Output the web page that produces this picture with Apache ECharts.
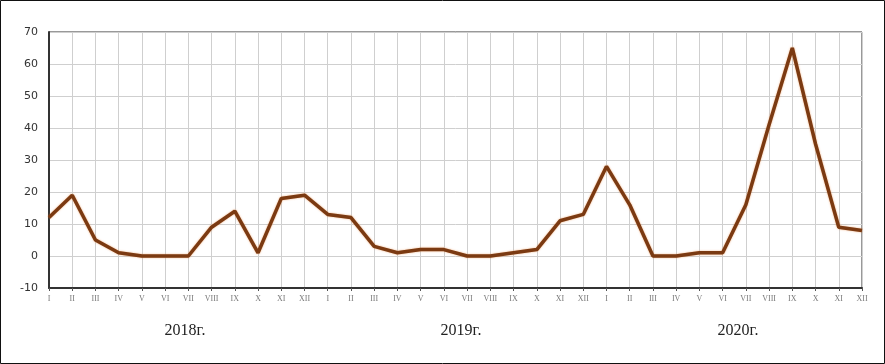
<!DOCTYPE html>
<html><head><meta charset="utf-8">
<script src="https://cdn.jsdelivr.net/npm/echarts@6/dist/echarts.min.js"></script>
<style>html,body{margin:0;padding:0;background:#fff}#c{width:885px;height:364px}</style>
</head><body><div id="c"></div>
<script>
const months = ['I','II','III','IV','V','VI','VII','VIII','IX','X','XI','XII'];
const categories = [].concat(months, months, months);
const values2018 = [12, 19, 5, 1, 0, 0, 0, 9, 14, 1, 18, 19];
const values2019 = [13, 12, 3, 1, 2, 2, 0, 0, 1, 2, 11, 13];
const values2020 = [28, 16, 0, 0, 1, 1, 16, 41, 65, 35, 9, 8];
const yearLabels = ['2018г.', '2019г.', '2020г.'];
const yTicks = {min: -10, max: 70, interval: 10};

const values = [].concat(values2018, values2019, values2020);
const chart = echarts.init(document.getElementById('c'));
chart.setOption({
  animation: false,
  grid: {left: 49, right: 23, top: 32, bottom: 76, show: true, borderColor: '#333', borderWidth: 1},
  xAxis: {
    type: 'category', data: categories, boundaryGap: false,
    axisLine: {onZero: false, lineStyle: {color: '#333', width: 2}},
    axisTick: {show: true, length: 3, lineStyle: {color: '#555'}},
    axisLabel: {interval: 0, color: '#777', fontFamily: 'Liberation Serif', fontSize: 8, margin: 7},
    splitLine: {show: true, lineStyle: {color: '#cfcfcf', width: 1}}
  },
  yAxis: {
    type: 'value', min: yTicks.min, max: yTicks.max, interval: yTicks.interval,
    axisLine: {show: true, lineStyle: {color: '#333', width: 2}},
    axisTick: {show: false},
    axisLabel: {color: '#333', fontFamily: 'DejaVu Sans', fontSize: 11, margin: 11},
    splitLine: {show: true, lineStyle: {color: '#cfcfcf', width: 1}}
  },
  graphic: [
    {type: 'rect', shape: {x: 0.5, y: 0.5, width: 884, height: 363}, style: {fill: 'none', stroke: '#111', lineWidth: 1}},
    {type: 'text', x: 185, y: 331, style: {text: yearLabels[0], fill: '#222', font: '16px "Liberation Serif"', textAlign: 'center', textVerticalAlign: 'middle'}},
    {type: 'text', x: 461, y: 331, style: {text: yearLabels[1], fill: '#222', font: '16px "Liberation Serif"', textAlign: 'center', textVerticalAlign: 'middle'}},
    {type: 'text', x: 738, y: 331, style: {text: yearLabels[2], fill: '#222', font: '16px "Liberation Serif"', textAlign: 'center', textVerticalAlign: 'middle'}}
  ],
  series: [{
    type: 'line', data: values, showSymbol: false,
    lineStyle: {color: '#7b3a12', width: 3.5, shadowColor: 'rgba(230,120,40,0.6)', shadowBlur: 2}
  }]
});
</script></body></html>
